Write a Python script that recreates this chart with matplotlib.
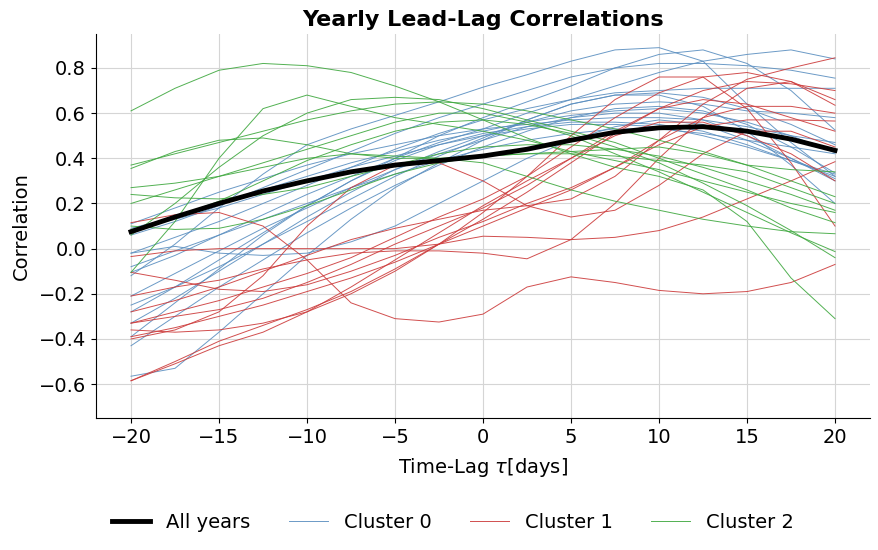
import matplotlib
matplotlib.use("Agg")
import matplotlib.pyplot as plt
import numpy as np

lags = [-20, -17.5, -15, -12.5, -10, -7.5, -5, -2.5, 0, 2.5, 5, 7.5, 10, 12.5, 15, 17.5, 20]

all_years = [0.075, 0.14, 0.20, 0.255, 0.30, 0.34, 0.37, 0.39, 0.41, 0.44, 0.48, 0.515, 0.535, 0.54, 0.52, 0.485, 0.435]

cluster0 = [
    [-0.12, 0.02, 0.18, 0.33, 0.46, 0.53, 0.59, 0.65, 0.715, 0.77, 0.83, 0.88, 0.89, 0.83, 0.64, 0.47, 0.32],
    [-0.105, -0.03, 0.06, 0.15, 0.24, 0.32, 0.40, 0.47, 0.53, 0.60, 0.66, 0.72, 0.78, 0.83, 0.86, 0.88, 0.84],
    [0.06, 0.12, 0.19, 0.27, 0.35, 0.43, 0.51, 0.58, 0.64, 0.70, 0.76, 0.80, 0.82, 0.82, 0.81, 0.79, 0.755],
    [-0.02, 0.05, 0.12, 0.20, 0.28, 0.36, 0.44, 0.51, 0.57, 0.62, 0.66, 0.69, 0.70, 0.71, 0.71, 0.71, 0.71],
    [-0.28, -0.17, -0.05, 0.07, 0.19, 0.30, 0.40, 0.50, 0.58, 0.65, 0.72, 0.80, 0.86, 0.88, 0.82, 0.70, 0.525],
    [0.11, 0.18, 0.25, 0.31, 0.37, 0.42, 0.46, 0.50, 0.53, 0.55, 0.57, 0.58, 0.58, 0.57, 0.54, 0.50, 0.47],
    [0.09, 0.14, 0.20, 0.26, 0.32, 0.38, 0.43, 0.48, 0.52, 0.56, 0.59, 0.61, 0.62, 0.60, 0.56, 0.50, 0.425],
    [0.08, 0.13, 0.18, 0.24, 0.30, 0.36, 0.41, 0.46, 0.50, 0.53, 0.55, 0.55, 0.54, 0.50, 0.45, 0.39, 0.33],
    [-0.02, 0.01, -0.02, -0.03, -0.02, 0.03, 0.10, 0.20, 0.30, 0.40, 0.48, 0.54, 0.57, 0.55, 0.48, 0.40, 0.31],
    [-0.21, -0.11, -0.01, 0.09, 0.18, 0.27, 0.35, 0.42, 0.48, 0.54, 0.58, 0.60, 0.60, 0.57, 0.50, 0.40, 0.30],
    [-0.25, -0.17, -0.08, 0.02, 0.12, 0.22, 0.32, 0.41, 0.49, 0.57, 0.64, 0.68, 0.68, 0.63, 0.52, 0.37, 0.20],
    [-0.33, -0.22, -0.10, 0.02, 0.14, 0.25, 0.35, 0.43, 0.50, 0.56, 0.61, 0.64, 0.65, 0.64, 0.61, 0.60, 0.58],
    [-0.39, -0.24, -0.09, 0.06, 0.19, 0.30, 0.39, 0.46, 0.51, 0.54, 0.56, 0.56, 0.55, 0.52, 0.46, 0.39, 0.32],
    [-0.43, -0.30, -0.17, -0.05, 0.07, 0.18, 0.28, 0.37, 0.45, 0.52, 0.58, 0.62, 0.63, 0.61, 0.55, 0.45, 0.335],
    [-0.565, -0.53, -0.37, -0.20, -0.03, 0.13, 0.27, 0.38, 0.48, 0.57, 0.64, 0.68, 0.69, 0.67, 0.62, 0.55, 0.46],
    [-0.08, -0.01, 0.06, 0.13, 0.20, 0.27, 0.33, 0.39, 0.44, 0.48, 0.51, 0.53, 0.53, 0.51, 0.48, 0.45, 0.42],
]

cluster1 = [
    [0.115, 0.15, 0.16, 0.10, -0.05, -0.24, -0.31, -0.325, -0.29, -0.17, -0.125, -0.15, -0.185, -0.20, -0.19, -0.15, -0.07],
    [-0.035, -0.01, 0.0, 0.0, 0.0, 0.0, 0.0, 0.02, 0.055, 0.05, 0.04, 0.05, 0.08, 0.14, 0.22, 0.30, 0.385],
    [-0.105, -0.14, -0.18, -0.19, -0.16, -0.10, -0.03, 0.05, 0.12, 0.20, 0.27, 0.36, 0.46, 0.54, 0.57, 0.57, 0.565],
    [-0.21, -0.17, -0.14, -0.09, -0.05, -0.02, -0.01, -0.01, -0.02, -0.045, 0.04, 0.20, 0.40, 0.58, 0.71, 0.74, 0.66],
    [-0.28, -0.23, -0.17, -0.10, -0.03, 0.04, 0.09, 0.13, 0.17, 0.19, 0.22, 0.32, 0.48, 0.64, 0.75, 0.80, 0.845],
    [-0.33, -0.28, -0.23, -0.17, -0.11, -0.04, 0.05, 0.14, 0.22, 0.32, 0.45, 0.58, 0.69, 0.76, 0.78, 0.74, 0.635],
    [-0.36, -0.37, -0.36, -0.33, -0.28, -0.20, -0.10, 0.02, 0.16, 0.32, 0.50, 0.66, 0.76, 0.76, 0.62, 0.38, 0.10],
    [-0.39, -0.35, -0.30, -0.25, -0.19, -0.13, -0.06, 0.02, 0.10, 0.18, 0.26, 0.36, 0.48, 0.58, 0.63, 0.63, 0.60],
    [-0.585, -0.50, -0.41, -0.34, -0.27, -0.19, -0.09, 0.02, 0.13, 0.25, 0.38, 0.51, 0.62, 0.70, 0.74, 0.73, 0.70],
    [-0.585, -0.51, -0.43, -0.37, -0.28, -0.17, -0.05, 0.07, 0.19, 0.30, 0.40, 0.50, 0.56, 0.56, 0.50, 0.42, 0.30],
    [-0.40, -0.36, -0.28, -0.12, 0.10, 0.27, 0.37, 0.38, 0.30, 0.19, 0.14, 0.17, 0.28, 0.42, 0.52, 0.52, 0.45],
    [-0.33, -0.30, -0.27, -0.22, -0.15, -0.07, 0.02, 0.10, 0.18, 0.28, 0.40, 0.52, 0.62, 0.66, 0.64, 0.58, 0.52],
]

cluster2 = [
    [0.61, 0.71, 0.79, 0.82, 0.81, 0.78, 0.72, 0.65, 0.57, 0.49, 0.42, 0.36, 0.32, 0.26, 0.12, -0.13, -0.31],
    [-0.105, 0.12, 0.40, 0.62, 0.68, 0.63, 0.58, 0.55, 0.52, 0.48, 0.43, 0.39, 0.35, 0.30, 0.25, 0.20, 0.16],
    [0.06, 0.20, 0.36, 0.50, 0.60, 0.66, 0.67, 0.66, 0.62, 0.57, 0.52, 0.47, 0.40, 0.33, 0.26, 0.18, 0.115],
    [0.37, 0.42, 0.47, 0.52, 0.57, 0.61, 0.64, 0.65, 0.64, 0.61, 0.57, 0.53, 0.48, 0.43, 0.37, 0.30, 0.23],
    [0.355, 0.43, 0.48, 0.49, 0.46, 0.42, 0.40, 0.40, 0.41, 0.42, 0.43, 0.44, 0.45, 0.42, 0.37, 0.35, 0.34],
    [0.27, 0.29, 0.32, 0.36, 0.40, 0.42, 0.41, 0.40, 0.38, 0.32, 0.26, 0.21, 0.17, 0.13, 0.10, 0.075, 0.066],
    [0.24, 0.225, 0.22, 0.24, 0.27, 0.32, 0.37, 0.42, 0.45, 0.46, 0.46, 0.44, 0.41, 0.36, 0.30, 0.24, 0.17],
    [0.20, 0.26, 0.32, 0.38, 0.44, 0.50, 0.56, 0.60, 0.60, 0.56, 0.50, 0.42, 0.34, 0.25, 0.16, 0.07, -0.013],
    [0.10, 0.085, 0.09, 0.13, 0.19, 0.26, 0.33, 0.38, 0.41, 0.42, 0.42, 0.41, 0.39, 0.37, 0.34, 0.27, 0.20],
    [0.085, 0.14, 0.21, 0.30, 0.39, 0.46, 0.52, 0.56, 0.57, 0.55, 0.51, 0.45, 0.38, 0.29, 0.19, 0.08, -0.04],
]

cluster_names = ["Cluster 0", "Cluster 1", "Cluster 2"]
cluster_colors = ["#5b8fc0", "#cc3b3b", "#3fa83f"]

fig = plt.figure(figsize=(8.79, 5.5), dpi=100)
ax = fig.add_axes([0.109, 0.24, 0.881, 0.698])

ax.grid(True, color="#d5d5d5", linewidth=0.8)
ax.set_axisbelow(True)

handles = []
h_all, = ax.plot(lags, all_years, color="black", linewidth=3.5, zorder=5, label="All years")
handles.append(h_all)
for name, color, data in zip(cluster_names, cluster_colors, [cluster0, cluster1, cluster2]):
    h = None
    for i, series in enumerate(data):
        line, = ax.plot(lags, series, color=color, linewidth=0.7, alpha=0.9,
                        label=name if i == 0 else None)
        if i == 0:
            h = line
    handles.append(h)

ax.set_xlim(-22, 22)
ax.set_ylim(-0.75, 0.95)
ax.set_xticks([-20, -15, -10, -5, 0, 5, 10, 15, 20])
ax.set_yticks([-0.6, -0.4, -0.2, 0.0, 0.2, 0.4, 0.6, 0.8])
ax.set_yticklabels(["\u22120.6", "\u22120.4", "\u22120.2", "0.0", "0.2", "0.4", "0.6", "0.8"])
ax.tick_params(labelsize=14)
ax.spines["top"].set_visible(False)
ax.spines["right"].set_visible(False)
ax.set_xlabel(r"Time-Lag $\tau$[days]", fontsize=14, labelpad=7)
ax.set_ylabel("Correlation", fontsize=14, labelpad=6)
ax.set_title("Yearly Lead-Lag Correlations", fontsize=16, fontweight="bold")

fig.legend(handles=handles, labels=["All years"] + cluster_names, loc="center",
           bbox_to_anchor=(0.515, 0.05), ncol=4, frameon=False, fontsize=14,
           columnspacing=2.0, handlelength=2.0)

fig.savefig("out.png", dpi=100)
